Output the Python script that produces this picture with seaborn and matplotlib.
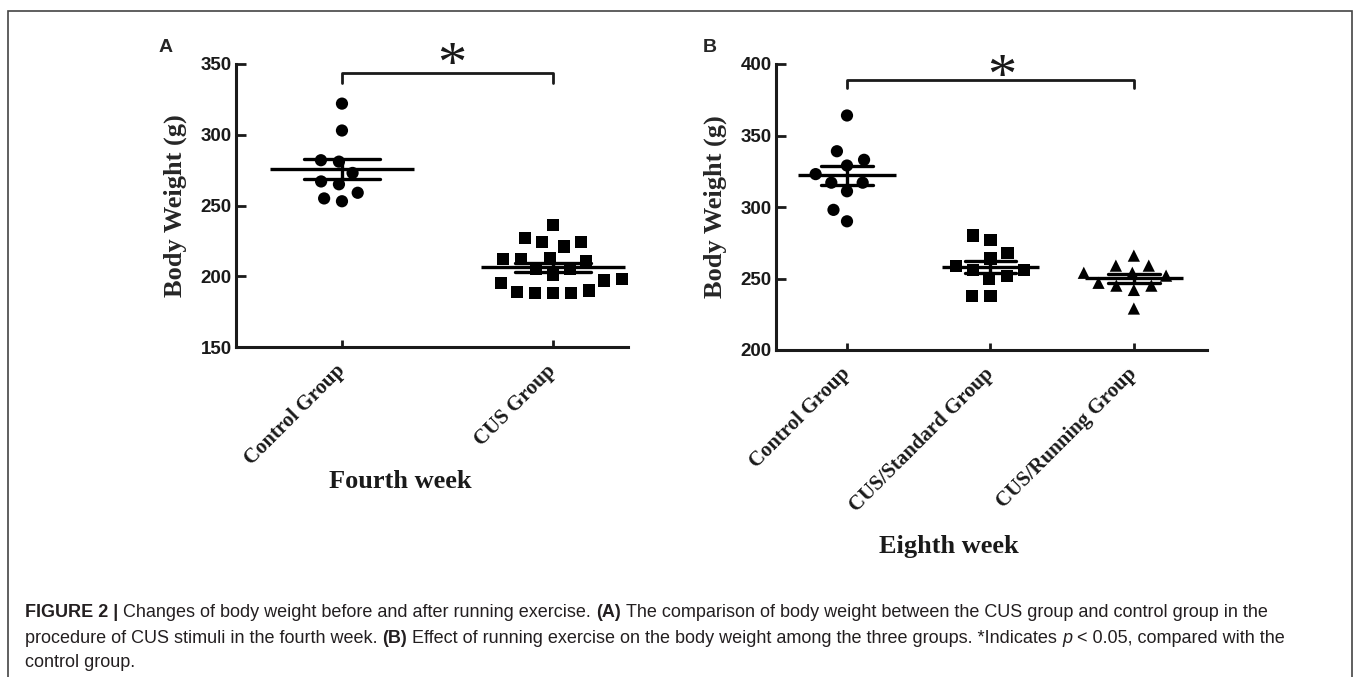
import numpy as np
import pandas as pd
import seaborn as sns
import matplotlib.pyplot as plt
from matplotlib.patches import Rectangle

# body weight (g)
week4_groups = ["Control Group", "CUS Group"]
week4_control = [322, 303, 282, 281, 273, 267, 265, 259, 255, 253]
week4_cus = [236, 227, 224, 224, 221, 213, 212, 212, 211, 205,
             205, 201, 198, 197, 195, 190, 188, 188, 188, 189]

week8_groups = ["Control Group", "CUS/Standard Group", "CUS/Running Group"]
week8_control = [364, 339, 333, 329, 323, 317, 317, 311, 298, 290]
week8_standard = [280, 277, 268, 264, 259, 256, 256, 252, 250, 238, 238]
week8_running = [266, 259, 259, 254, 254, 252, 247, 245, 245, 242, 229]

week4_markers = ["o", "s"]
week8_markers = ["o", "s", "^"]

caption = [
    [("FIGURE 2 |", "bold", "normal"),
     ("Changes of body weight before and after running exercise.", "normal", "normal"),
     ("(A)", "bold", "normal"),
     ("The comparison of body weight between the CUS group and control group in the", "normal", "normal")],
    [("procedure of CUS stimuli in the fourth week.", "normal", "normal"),
     ("(B)", "bold", "normal"),
     ("Effect of running exercise on the body weight among the three groups. *Indicates", "normal", "normal"),
     ("p", "normal", "italic"),
     ("< 0.05, compared with the", "normal", "normal")],
    [("control group.", "normal", "normal")],
]

sns.set_style("ticks")
plt.rcParams["font.family"] = ["Liberation Sans", "DejaVu Sans"]
SERIF = ["Liberation Serif", "DejaVu Serif"]

W, H = 1354, 677
fig = plt.figure(figsize=(W / 100, H / 100), dpi=100)


def px(x, y):
    # pixel position -> figure fraction
    return x / W, 1 - y / H


def long_df(groups, values):
    return pd.DataFrame({
        "group": np.repeat(groups, [len(v) for v in values]),
        "weight": np.concatenate(values).astype(float),
    })


def panel(rect, groups, values, markers, ylim, xlim, bracket, star):
    ax = fig.add_axes(rect)
    df = long_df(groups, values)
    for g, m in zip(groups, markers):
        sns.swarmplot(data=df[df.group == g], x="group", y="weight", order=groups,
                      marker=m, color="black", size=8.8, linewidth=3.6,
                      edgecolor="none", ax=ax)
    sns.pointplot(data=df, x="group", y="weight", order=groups, errorbar="se",
                  capsize=0.36, linestyle="none", marker="none", color="black",
                  err_kws={"linewidth": 2.4}, ax=ax)
    means = df.groupby("group", sort=False)["weight"].mean().reindex(groups)
    pos = np.arange(len(groups))
    ax.hlines(means.values, pos - 0.34, pos + 0.34, color="black", lw=2.4, zorder=4)

    ax.set_xlim(*xlim)
    ax.set_ylim(*ylim)
    ax.set_yticks(np.arange(ylim[0], ylim[1] + 1, 50))
    ax.set_xticks(pos)
    ax.set_xticklabels(groups, rotation=45, ha="right", va="center",
                       rotation_mode="anchor", fontsize=15, fontweight="bold",
                       family=SERIF)
    for lbl in ax.get_yticklabels():
        lbl.set_fontsize(13.5)
        lbl.set_fontweight("bold")
    ax.tick_params(axis="y", direction="in", length=7, width=2, pad=3, colors="#1a1a1a")
    ax.tick_params(axis="x", direction="in", length=5, width=2, pad=15, colors="#1a1a1a")
    sns.despine(ax=ax)
    for s in ("left", "bottom"):
        ax.spines[s].set_linewidth(2.2)
        ax.spines[s].set_color("#1a1a1a")
    ax.set_xlabel("")
    ax.set_ylabel("Body Weight (g)", fontsize=19, fontweight="bold", family=SERIF)

    # significance bracket between first and last group
    top, foot = bracket
    ax.plot([0, 0, pos[-1], pos[-1]], [foot, top, top, foot], color="#1a1a1a",
            lw=2, clip_on=False)
    ax.text(star[0], star[1], "*", ha="center", va="baseline", fontsize=42,
            family=SERIF, clip_on=False, color="#1a1a1a")
    return ax


axA = panel([236 / W, 1 - 347 / H, 392 / W, 283 / H], week4_groups,
            [week4_control, week4_cus], week4_markers, (150, 350), (-0.502, 1.355),
            (343.4, 336.8), (0.52, 338.0))
axA.yaxis.set_label_coords(-0.125, 0.5)

axB = panel([776 / W, 1 - 350 / H, 431 / W, 286 / H], week8_groups,
            [week8_control, week8_standard, week8_running], week8_markers,
            (200, 400), (-0.495, 2.51), (388.8, 383.0), (1.08, 379.7))
axB.yaxis.set_label_coords(-0.114, 0.5)

fig.text(*px(400, 482), "Fourth week", ha="center", va="center", fontsize=19,
         fontweight="bold", family=SERIF, color="#1a1a1a")
fig.text(*px(949, 547), "Eighth week", ha="center", va="center", fontsize=19,
         fontweight="bold", family=SERIF, color="#1a1a1a")
fig.text(*px(166, 48), "A", ha="center", va="center", fontsize=14, fontweight="bold")
fig.text(*px(710, 47), "B", ha="center", va="center", fontsize=14, fontweight="bold")

# caption, written piece by piece so bold / italic runs sit on one line
r = fig.canvas.get_renderer()
probe1 = fig.text(0, 0, "a a", fontsize=13)
probe2 = fig.text(0, 0, "aa", fontsize=13)
gap = (probe1.get_window_extent(r).width - probe2.get_window_extent(r).width) / W
probe1.remove()
probe2.remove()

for line, base in zip(caption, [617, 643, 667]):
    x = 25 / W
    for text, weight, style in line:
        t = fig.text(x, 1 - base / H, text, fontsize=13, fontweight=weight,
                     fontstyle=style, va="baseline", ha="left", color="#231f20")
        x += t.get_window_extent(r).width / W + gap

fig.patches.append(Rectangle((8 / W, -0.1), 1344 / W, 0.1 + 1 - 11 / H,
                             transform=fig.transFigure, fill=False,
                             lw=1.2, ec="#444444"))

fig.savefig("out.png", dpi=100)
